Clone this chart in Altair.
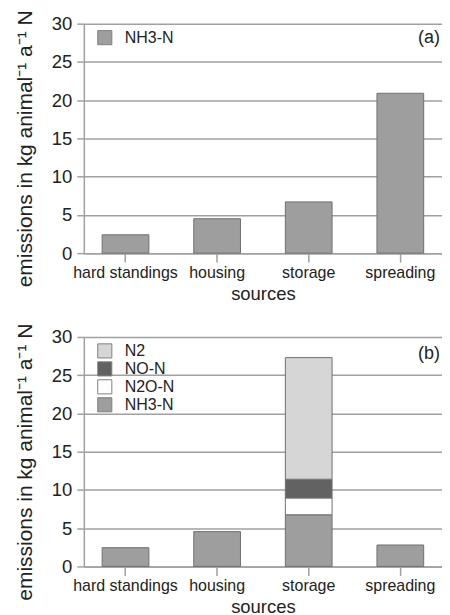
import altair as alt
import pandas as pd

sources = ["hard standings", "housing", "storage", "spreading"]

# panel (a): NH3-N only
nh3_a = [2.4, 4.5, 6.7, 20.9]

# panel (b): stacked species
species = ["N2", "NO-N", "N2O-N", "NH3-N"]          # legend order
stack_order = {"NH3-N": 0, "N2O-N": 1, "NO-N": 2, "N2": 3}
nh3_b = [2.45, 4.55, 6.75, 2.8]
n2o_b = [0, 0, 2.2, 0]
no_b = [0, 0, 2.45, 0]
n2_b = [0, 0, 15.9, 0]

fills = {"N2": "#d6d6d6", "NO-N": "#626262", "N2O-N": "#ffffff", "NH3-N": "#9e9e9e"}

df_a = pd.DataFrame({"source": sources, "value": nh3_a, "species": "NH3-N"})

rows = []
for name, vals in [("NH3-N", nh3_b), ("N2O-N", n2o_b), ("NO-N", no_b), ("N2", n2_b)]:
    for s, v in zip(sources, vals):
        if v > 0:
            rows.append({"source": s, "species": name, "value": v, "ord": stack_order[name]})
df_b = pd.DataFrame(rows)

W, H = 359, 230
FONT = "Liberation Sans"
GRID = "#a0a0a0"
TXT = "#222222"

xenc = alt.X(
    "source:N", sort=sources, title="sources",
    scale=alt.Scale(paddingInner=0.49, paddingOuter=0.2),
    axis=alt.Axis(labelAngle=0, tickSize=9, tickColor=GRID, domainColor=GRID,
                  domainWidth=1.5, tickWidth=1.5, labelPadding=2, titlePadding=4,
                  labelFontSize=16, titleFontSize=18.5),
)
yenc = alt.Y(
    "value:Q", stack="zero",
    title="emissions in kg animal\u207b\u00b9 a\u207b\u00b9 N",
    scale=alt.Scale(domain=[0, 30], nice=False),
    axis=alt.Axis(values=[0, 5, 10, 15, 20, 25, 30], grid=True, gridColor=GRID,
                  gridWidth=1.5, tickSize=7, tickColor=GRID, tickWidth=1.5,
                  domainColor=GRID, domainWidth=1.5, labelPadding=5, titlePadding=16,
                  labelFontSize=18.5, titleFontSize=21, titleY=H / 2 + 10),
)


def legend():
    return alt.Legend(title=None, orient="none", legendX=13, legendY=6,
                      symbolType="square", symbolSize=200, symbolStrokeColor="#808080",
                      symbolStrokeWidth=1, symbolOpacity=1, labelFontSize=16,
                      labelOffset=12, rowPadding=-2, padding=0, labelColor=TXT)


bars_a = alt.Chart(df_a).mark_bar(stroke="#707070", strokeWidth=1).encode(
    x=xenc, y=yenc,
    color=alt.Color("species:N", scale=alt.Scale(domain=["NH3-N"], range=[fills["NH3-N"]]),
                    legend=legend()),
)
lab_a = alt.Chart(pd.DataFrame({"t": ["(a)"]})).mark_text(
    align="right", baseline="middle", fontSize=18, font=FONT, color=TXT
).encode(x=alt.value(357), y=alt.value(14), text="t:N")
panel_a = alt.layer(bars_a, lab_a).properties(width=W, height=H)

bars_b = alt.Chart(df_b).mark_bar(stroke="#707070", strokeWidth=1).encode(
    x=xenc, y=yenc,
    color=alt.Color("species:N",
                    scale=alt.Scale(domain=species, range=[fills[s] for s in species]),
                    legend=legend()),
    order=alt.Order("ord:Q", sort="ascending"),
)
lab_b = alt.Chart(pd.DataFrame({"t": ["(b)"]})).mark_text(
    align="right", baseline="middle", fontSize=18, font=FONT, color=TXT
).encode(x=alt.value(357), y=alt.value(17), text="t:N")
panel_b = alt.layer(bars_b, lab_b).properties(width=W, height=H)

chart = alt.vconcat(panel_a, panel_b, spacing=20).resolve_scale(
    color="independent"
).resolve_legend(color="independent").properties(
    padding={"left": 6, "top": 1, "right": 0, "bottom": 0}
).configure_view(stroke=None).configure_axis(
    labelFont=FONT, titleFont=FONT,
    labelColor=TXT, titleColor=TXT, titleFontWeight="normal",
).configure_legend(labelFont=FONT)

chart.save("out.html", embed_options={"renderer": "svg", "actions": False})
